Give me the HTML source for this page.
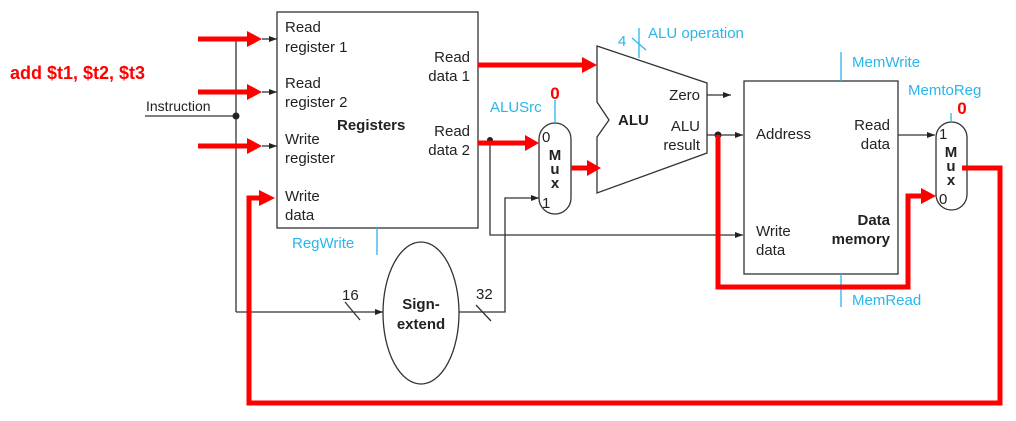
<!DOCTYPE html>
<html><head><style>body{margin:0;background:#fff}svg{display:block}</style></head><body>
<svg width="1016" height="421" viewBox="0 0 1016 421" xmlns="http://www.w3.org/2000/svg" font-family="Liberation Sans, Arial, sans-serif">
<defs>
<marker id="a" markerWidth="8" markerHeight="6" refX="8" refY="3" orient="auto" markerUnits="userSpaceOnUse"><path d="M0,0 L8,3 L0,6 z" fill="#222"/></marker>
</defs>
<g fill="none" stroke="#333" stroke-width="1.3">
<rect x="277" y="12" width="201" height="216"/>
<rect x="744" y="81" width="154" height="193"/>
<path d="M597,46 L707,83 L707,153 L597,193 L597,137 L609,120 L597,102 Z"/>
<ellipse cx="421" cy="313" rx="38" ry="71"/>
<rect x="539" y="123" width="32" height="91" rx="16"/>
<rect x="936" y="122" width="31" height="88" rx="15.5"/>
<line x1="236" y1="39" x2="236" y2="312"/>
<line x1="145" y1="116" x2="236" y2="116"/>
<line x1="262" y1="39" x2="277" y2="39" marker-end="url(#a)"/>
<line x1="262" y1="92" x2="277" y2="92" marker-end="url(#a)"/>
<line x1="262" y1="146" x2="277" y2="146" marker-end="url(#a)"/>
<line x1="236" y1="312" x2="383" y2="312" marker-end="url(#a)"/>
<polyline points="459,312 505,312 505,198 539,198" marker-end="url(#a)"/>
<polyline points="490,140 490,235 743,235" marker-end="url(#a)"/>
<line x1="707" y1="95" x2="731" y2="95" marker-end="url(#a)"/>
<line x1="707" y1="135" x2="743" y2="135" marker-end="url(#a)"/>
<line x1="898" y1="135" x2="935" y2="135" marker-end="url(#a)"/>
<line x1="345" y1="302" x2="360" y2="320"/>
<line x1="476" y1="305" x2="491" y2="321"/>
</g>
<g fill="#222"><circle cx="236" cy="116" r="3.5"/><circle cx="490" cy="140" r="3"/><circle cx="718" cy="135" r="3.5"/></g>
<g stroke="#29b6ea" stroke-width="1.3">
<line x1="377" y1="228" x2="377" y2="255"/>
<line x1="555" y1="100" x2="555" y2="123"/>
<line x1="639" y1="28" x2="639" y2="58"/>
<line x1="632" y1="38" x2="646" y2="50"/>
<line x1="841" y1="52" x2="841" y2="81"/>
<line x1="841" y1="274" x2="841" y2="307"/>
<line x1="951" y1="113" x2="951" y2="122"/>
</g>
<g fill="none" stroke="#f00" stroke-width="5">
<line x1="198" y1="39" x2="250" y2="39"/>
<line x1="198" y1="92" x2="250" y2="92"/>
<line x1="198" y1="146" x2="250" y2="146"/>
<line x1="478" y1="65" x2="585" y2="65"/>
<line x1="478" y1="143" x2="527" y2="143"/>
<line x1="571" y1="168" x2="590" y2="168"/>
<polyline points="718,135 718,287 908,287 908,196 924,196"/>
<polyline points="962,168 1000,168 1000,403 249,403 249,198 262,198"/>
</g>
<g fill="#f00">
<path d="M247,31 L262,39 L247,47 Z"/><path d="M247,84 L262,92 L247,100 Z"/><path d="M247,138 L262,146 L247,154 Z"/>
<path d="M259,190 L275,198 L259,206 Z"/>
<path d="M582,57 L597,65 L582,73 Z"/><path d="M525,135 L539,143 L525,151 Z"/>
<path d="M587,160 L601,168 L587,176 Z"/><path d="M921,188 L936,196 L921,204 Z"/>
</g>
<g fill="#222" font-size="15">
<text x="285" y="32">Read</text><text x="285" y="52">register 1</text>
<text x="285" y="88">Read</text><text x="285" y="107">register 2</text>
<text x="285" y="144">Write</text><text x="285" y="163">register</text>
<text x="285" y="201">Write</text><text x="285" y="220">data</text>
<text x="470" y="62" text-anchor="end">Read</text><text x="470" y="81" text-anchor="end">data 1</text>
<text x="470" y="136" text-anchor="end">Read</text><text x="470" y="155" text-anchor="end">data 2</text>
<text x="337" y="130" font-weight="bold">Registers</text>
<text x="146" y="111" font-size="14">Instruction</text>
<text x="342" y="300">16</text><text x="476" y="299">32</text>
<text x="421" y="309" text-anchor="middle" font-weight="bold">Sign-</text>
<text x="421" y="329" text-anchor="middle" font-weight="bold">extend</text>
<text x="542" y="142">0</text><text x="542" y="208">1</text>
<text x="555" y="160" font-weight="bold" text-anchor="middle">M</text>
<text x="555" y="174" font-weight="bold" text-anchor="middle">u</text>
<text x="555" y="188" font-weight="bold" text-anchor="middle">x</text>
<text x="618" y="125" font-weight="bold">ALU</text>
<text x="700" y="100" text-anchor="end">Zero</text>
<text x="700" y="131" text-anchor="end">ALU</text><text x="700" y="150" text-anchor="end">result</text>
<text x="756" y="139">Address</text>
<text x="890" y="130" text-anchor="end">Read</text><text x="890" y="149" text-anchor="end">data</text>
<text x="756" y="236">Write</text><text x="756" y="255">data</text>
<text x="890" y="225" text-anchor="end" font-weight="bold">Data</text>
<text x="890" y="244" text-anchor="end" font-weight="bold">memory</text>
<text x="939" y="139">1</text><text x="939" y="204">0</text>
<text x="951" y="157" font-weight="bold" text-anchor="middle">M</text>
<text x="951" y="171" font-weight="bold" text-anchor="middle">u</text>
<text x="951" y="185" font-weight="bold" text-anchor="middle">x</text>
</g>
<g fill="#29b6ea" font-size="15">
<text x="292" y="248">RegWrite</text>
<text x="490" y="112">ALUSrc</text>
<text x="618" y="46">4</text><text x="648" y="38">ALU operation</text>
<text x="852" y="67">MemWrite</text>
<text x="852" y="305">MemRead</text>
<text x="908" y="95">MemtoReg</text>
</g>
<g fill="#f00" font-weight="bold">
<text x="10" y="79" font-size="18">add $t1, $t2, $t3</text>
<text x="555" y="99" font-size="17" text-anchor="middle">0</text>
<text x="962" y="114" font-size="17" text-anchor="middle">0</text>
</g>
</svg>
</body></html>
